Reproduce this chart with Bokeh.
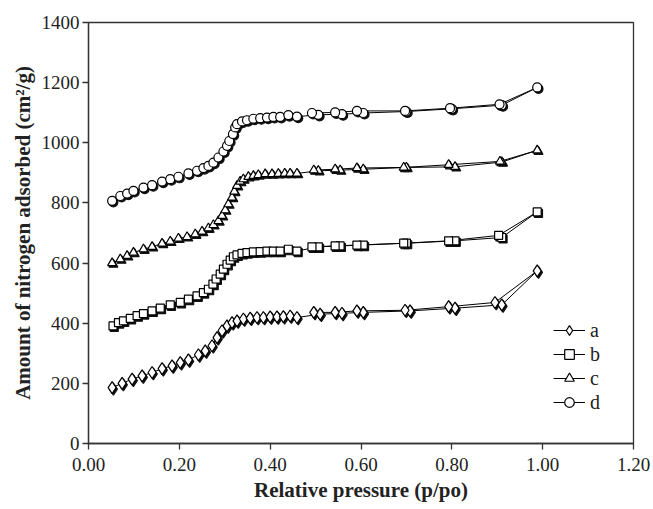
from bokeh.plotting import figure
from bokeh.models import Range1d, Legend, LegendItem, NumeralTickFormatter, FixedTicker, ColumnDataSource
from bokeh.transform import dodge
from bokeh.embed import file_html
from bokeh.resources import INLINE

# ---- data (adsorption branch followed by desorption branch) ----
a_x = [0.052, 0.074, 0.096, 0.118, 0.140, 0.162, 0.184, 0.202, 0.220, 0.242, 0.257, 0.272, 0.283,
       0.294, 0.305, 0.316, 0.327, 0.341, 0.356, 0.371, 0.385, 0.400, 0.415, 0.429, 0.444, 0.459,
       0.510, 0.558, 0.605, 0.708, 0.807, 0.910, 0.988,
       0.895, 0.793, 0.697, 0.591, 0.543, 0.496]
a_y = [186, 200, 214, 225, 236, 249, 258, 269, 278, 295, 308, 325, 352,
       375, 391, 402, 408, 414, 417, 419, 419, 421, 421, 422, 424, 419,
       430, 433, 436, 441, 450, 461, 574,
       469, 455, 443, 441, 436, 436]

b_x = [0.054, 0.066, 0.077, 0.092, 0.107, 0.121, 0.140, 0.158, 0.180, 0.202, 0.220, 0.239, 0.253,
       0.264, 0.274, 0.281, 0.290, 0.297, 0.305, 0.312, 0.319, 0.327, 0.338, 0.349, 0.363, 0.378,
       0.393, 0.407, 0.422, 0.440, 0.459, 0.506, 0.554, 0.605, 0.700, 0.807, 0.910, 0.988,
       0.903, 0.793, 0.694, 0.591, 0.543, 0.492]
b_y = [391, 402, 408, 416, 425, 432, 441, 450, 461, 469, 480, 491, 502,
       513, 530, 547, 563, 580, 596, 610, 621, 627, 632, 635, 637, 638,
       640, 640, 640, 646, 640, 654, 657, 660, 666, 674, 685, 770,
       692, 674, 666, 660, 657, 654]

c_x = [0.052, 0.070, 0.085, 0.099, 0.121, 0.140, 0.162, 0.180, 0.198, 0.217, 0.235, 0.250, 0.264,
       0.275, 0.286, 0.294, 0.301, 0.308, 0.316, 0.321, 0.327, 0.334, 0.341, 0.352, 0.363, 0.374,
       0.389, 0.404, 0.418, 0.432, 0.444, 0.459, 0.506, 0.554, 0.605, 0.700, 0.807, 0.910, 0.988,
       0.906, 0.793, 0.694, 0.591, 0.543, 0.496]
c_y = [600, 613, 624, 635, 646, 654, 665, 672, 682, 687, 696, 705, 716,
       727, 740, 757, 776, 796, 818, 838, 857, 871, 879, 887, 890, 893,
       896, 896, 897, 898, 898, 898, 907, 909, 912, 918, 920, 936, 975,
       938, 927, 918, 916, 912, 909]

d_x = [0.052, 0.070, 0.085, 0.099, 0.121, 0.140, 0.162, 0.180, 0.198, 0.220, 0.239, 0.253, 0.264,
       0.275, 0.286, 0.297, 0.305, 0.310, 0.318, 0.323, 0.327, 0.338, 0.349, 0.363, 0.378, 0.393,
       0.407, 0.422, 0.440, 0.459, 0.506, 0.558, 0.605, 0.700, 0.800, 0.910, 0.988,
       0.905, 0.796, 0.697, 0.591, 0.543, 0.492]
d_y = [807, 823, 831, 840, 851, 859, 871, 879, 887, 898, 907, 916, 923,
       934, 951, 971, 990, 1006, 1029, 1051, 1062, 1071, 1075, 1080, 1082, 1084,
       1086, 1086, 1092, 1087, 1093, 1095, 1099, 1104, 1113, 1125, 1184,
       1128, 1115, 1106, 1106, 1101, 1099]

series_labels = ["a", "b", "c", "d"]
series_markers = ["diamond", "square", "triangle", "circle"]
series_sizes = [12, 8, 9, 9]
x_ticks = [0.0, 0.2, 0.4, 0.6, 0.8, 1.0, 1.2]
y_ticks = [0, 200, 400, 600, 800, 1000, 1200, 1400]

FONT = "Liberation Serif"

p = figure(width=653, height=509, output_backend="svg", toolbar_location=None,
           x_range=Range1d(0, 1.2), y_range=Range1d(0, 1400),
           min_border_left=88, min_border_right=20, min_border_top=22, min_border_bottom=66,
           background_fill_color="white", border_fill_color="white")
p.grid.visible = False
p.outline_line_color = "#333333"
p.outline_line_width = 1.3

p.xaxis.ticker = FixedTicker(ticks=x_ticks)
p.yaxis.ticker = FixedTicker(ticks=y_ticks)
p.xaxis.formatter = NumeralTickFormatter(format="0.00")
p.yaxis.formatter = NumeralTickFormatter(format="0")
for ax in (p.xaxis, p.yaxis):
    ax.axis_line_color = "#333333"
    ax.axis_line_width = 1.3
    ax.major_tick_line_color = "#333333"
    ax.major_tick_line_width = 1.3
    ax.major_tick_out = 6
    ax.major_tick_in = 0
    ax.minor_tick_line_color = None
    ax.major_label_text_font = FONT
    ax.major_label_text_font_size = "19px"
    ax.major_label_text_color = "#222222"
    ax.axis_label_text_font = FONT
    ax.axis_label_text_font_style = "bold"
    ax.axis_label_text_font_size = "21px"
    ax.axis_label_text_color = "#222222"
p.xaxis.axis_label = "Relative pressure (p/po)"
p.yaxis.axis_label = "Amount of nitrogen adsorbed (cm\u00b2/g)"
p.xaxis.major_label_standoff = 8
p.xaxis.axis_label_standoff = 4
p.yaxis.major_label_standoff = 3
p.yaxis.axis_label_standoff = 4

items = []
for lab, xs, ys, mk, sz in zip(series_labels, [a_x, b_x, c_x, d_x], [a_y, b_y, c_y, d_y],
                               series_markers, series_sizes):
    src = ColumnDataSource(dict(x=xs, y=ys))
    lr = p.line("x", "y", source=src, line_color="black", line_width=1)
    # dark print shadow of each marker
    p.scatter(dodge("x", 0.0028, range=p.x_range), dodge("y", -5, range=p.y_range), source=src,
              marker=mk, size=sz, fill_color="#111111", line_color="#111111", line_width=1.2)
    sr = p.scatter("x", "y", source=src, marker=mk, size=sz, fill_color="white",
                   line_color="black", line_width=1.2)
    items.append(LegendItem(label=lab, renderers=[lr, sr]))

legend = Legend(items=items, location=(465, 29), orientation="vertical",
                glyph_width=32, glyph_height=24, label_height=24, spacing=0,
                padding=0, margin=0, label_standoff=5,
                label_text_font=FONT, label_text_font_size="20px", label_text_color="#222222",
                border_line_alpha=0, background_fill_alpha=0)
p.add_layout(legend, "center")

open("out.html", "w").write(file_html(p, INLINE))
